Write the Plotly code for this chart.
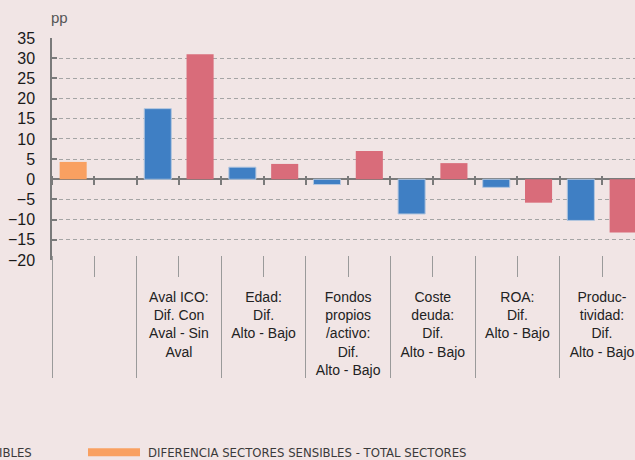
import plotly.graph_objects as go

# ---- data ----
groups = [
    " ",
    "Aval ICO:<br>Dif. Con<br>Aval - Sin<br>Aval",
    "Edad:<br>Dif.<br>Alto - Bajo",
    "Fondos<br>propios<br>/activo:<br>Dif.<br>Alto - Bajo",
    "Coste<br>deuda:<br>Dif.<br>Alto - Bajo",
    "ROA:<br>Dif.<br>Alto - Bajo",
    "Produc-<br>tividad:<br>Dif.<br>Alto - Bajo",
]
sub_slots = ["<span style='font-size:22px'>\u200b</span>",
             "<span style='font-size:22px'>\u200b\u200b</span>"]
total_sectores = [None, 17.5, 3.0, -1.3, -8.6, -2.0, -10.2]
sectores_sensibles = [None, 31.0, 3.8, 7.0, 4.0, -5.8, -13.2]
diferencia = [4.3, None, None, None, None, None, None]
y_ticks = list(range(-20, 40, 5))

series_names = ["TOTAL SECTORES", "SECTORES SENSIBLES",
                "DIFERENCIA SECTORES SENSIBLES - TOTAL SECTORES"]

# ---- build multicategory x ----
outer = [g for g in groups for _ in sub_slots]
inner = [s for _ in groups for s in sub_slots]
n = len(outer)


def spread(values, slot):
    out = [None] * n
    for k, v in enumerate(values):
        out[2 * k + slot] = v
    return out


BG = "#F1E5E5"
BLUE = "#3F7FC4"
RED = "#D96C7A"
ORANGE = "#F9A061"
AXIS = "#7a7a7a"
GRID = "#a5a5a5"

fig = go.Figure()
fig.add_trace(go.Bar(x=[outer, inner], y=spread(total_sectores, 0), name=series_names[0],
                     marker=dict(color=BLUE, line=dict(color="#b3c6df", width=1)), width=0.64))
fig.add_trace(go.Bar(x=[outer, inner], y=spread(sectores_sensibles, 1), name=series_names[1],
                     marker=dict(color=RED, line=dict(width=0)), width=0.64))
fig.add_trace(go.Bar(x=[outer, inner], y=spread(diferencia, 0), name=series_names[2],
                     marker=dict(color=ORANGE, line=dict(width=0)), width=0.64))

xr = [-0.5, 13.28]
boundaries = [i - 0.5 for i in range(n + 1)]

# empty helper traces so the tick-only overlay axes are drawn
for ax_id in ("x2", "x3"):
    fig.add_trace(go.Scatter(x=[None], y=[None], xaxis=ax_id, yaxis="y",
                             mode="markers", hoverinfo="skip", showlegend=False))

fig.update_layout(
    width=635, height=460,
    margin=dict(l=52, r=0, t=38, b=200),
    paper_bgcolor=BG, plot_bgcolor=BG,
    barmode="overlay",
    showlegend=False,
    font=dict(family="Liberation Sans, Arial, sans-serif", color="#222"),
    xaxis=dict(
        type="multicategory", range=xr, showgrid=False, zeroline=False,
        showline=False, ticks="outside", ticklen=16, tickcolor="#9a9a9a",
        tickwidth=1, tickson="boundaries", showdividers=True,
        dividercolor="#9a9a9a", dividerwidth=1,
        tickfont=dict(size=14, color="#222"), automargin=False,
    ),
    xaxis2=dict(
        overlaying="x", anchor="free", position=21.07 / 55, range=xr,
        type="linear", tickvals=boundaries, ticks="outside", ticklen=9,
        tickcolor=AXIS, tickwidth=1.5, showticklabels=False, showgrid=False,
        zeroline=False, showline=False,
    ),
    xaxis3=dict(
        overlaying="x", anchor="free", position=5 / 222, range=xr,
        type="linear", tickvals=boundaries, ticks="outside", ticklen=5,
        tickcolor="#9a9a9a", tickwidth=1, showticklabels=False, showgrid=False,
        zeroline=False, showline=False,
    ),
    yaxis=dict(
        range=[-20, 35], tickvals=y_ticks, showgrid=True, gridcolor=GRID,
        gridwidth=1, griddash="4px,3px", zeroline=True, zerolinecolor=AXIS,
        zerolinewidth=1.5, showline=True, linecolor=AXIS, linewidth=1.5,
        ticks="inside", ticklen=5, tickcolor=AXIS, tickwidth=1.5,
        ticklabelstandoff=12,
        tickfont=dict(size=16, color="#1a1a1a"), automargin=False,
    ),
)

fig.add_annotation(text="pp", xref="paper", yref="paper", x=-0.006, y=1.0,
                   xanchor="left", yanchor="bottom", yshift=10, showarrow=False,
                   font=dict(size=15, color="#555"))

# ---- legend (drawn as annotations/shapes; left part lies outside the crop) ----
LEG_FONT = dict(family="Liberation Sans Narrow, DejaVu Sans Condensed, sans-serif",
                size=13, color="#3a3a3a")
pw, ph = 583.0, 222.0
def px_x(px):
    return (px - 52) / pw
def px_y(py):
    return (260.3 - py) / ph

fig.add_shape(type="rect", xref="paper", yref="paper",
              x0=px_x(88), x1=px_x(140), y0=px_y(456.5), y1=px_y(448.5),
              fillcolor=ORANGE, line=dict(width=0))
fig.add_annotation(text=series_names[2], xref="paper", yref="paper",
                   x=px_x(146), y=px_y(452.5), xanchor="left", yanchor="middle",
                   showarrow=False, font=LEG_FONT)
fig.add_annotation(text=series_names[1], xref="paper", yref="paper",
                   x=px_x(34), y=px_y(452.5), xanchor="right", yanchor="middle",
                   showarrow=False, font=LEG_FONT)

fig.write_html("out.html", config={"displayModeBar": False},
               post_script="document.body.style.margin='0';document.body.style.overflow='hidden';")
